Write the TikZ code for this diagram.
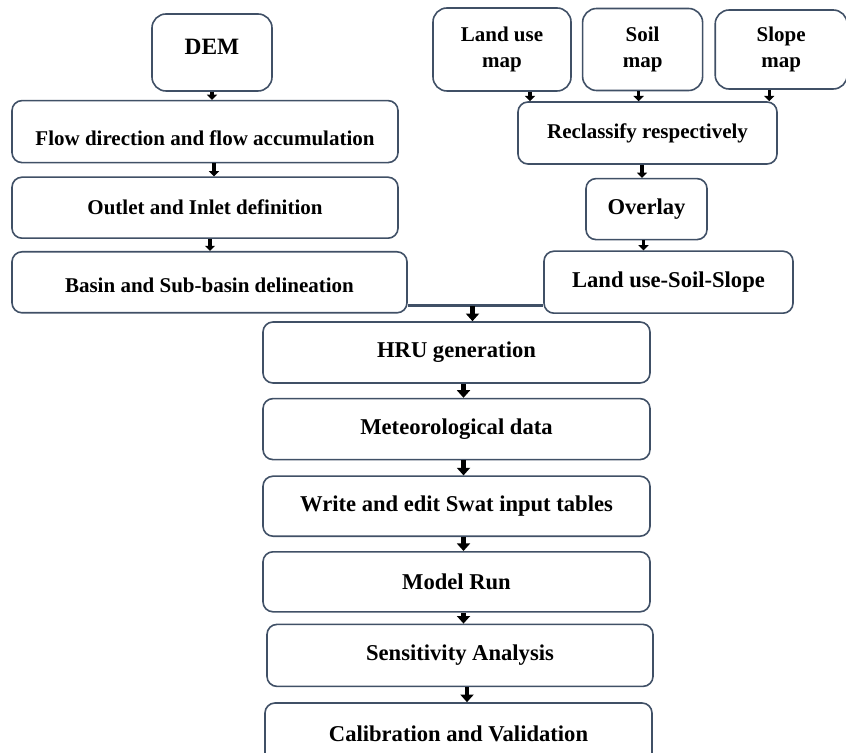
\documentclass[tikz,border=0pt]{standalone}
\usepackage{fontspec}
\setmainfont{Liberation Serif}
\usetikzlibrary{positioning,arrows.meta,calc}
\definecolor{edgeblue}{RGB}{64,80,102}

\begin{document}
\begin{tikzpicture}[
  box/.style={draw=edgeblue, line width=0.8pt, rounded corners=5pt, align=center, inner sep=0pt, font=\fontsize{10.5pt}{12.6pt}\selectfont\bfseries},
  bigbox/.style={box, font=\fontsize{11.3pt}{13.5pt}\selectfont\bfseries},
  mapbox/.style={box, rounded corners=7pt},
  arr/.style={-{Triangle[width=5pt,length=2.6pt]}, line width=1.6pt},
  bigarr/.style={-{Triangle[width=6.5pt,length=3.8pt]}, line width=2.1pt},
  joinline/.style={draw=edgeblue, line width=1.2pt}
]
\path[use as bounding box, clip] (0,0) rectangle (423pt,-376.5pt);

% DEM branch
\node[mapbox, minimum width=60pt, minimum height=38.5pt, font=\fontsize{11.7pt}{14pt}\selectfont\bfseries] (dem) at (106pt,-26.25pt) {\raisebox{2.75pt}[\height][\depth]{DEM}};
\node[box, minimum width=193pt, minimum height=31pt, below=4pt of dem, xshift=-3.5pt] (flow) {\raisebox{-3.5pt}[\height][\depth]{Flow direction and flow accumulation}};
\node[box, minimum width=193pt, minimum height=30.5pt, below=6.5pt of flow] (outlet) {Outlet and Inlet definition};
\node[box, minimum width=197.5pt, minimum height=30.5pt, below=6pt of outlet, xshift=2.25pt] (basin) {\raisebox{-1.75pt}[\height][\depth]{Basin and Sub-basin delineation}};

% map branch
\node[mapbox, minimum width=69pt, minimum height=41.5pt] (landuse) at (251pt,-24.75pt) {Land use\\map};
\node[mapbox, minimum width=60pt, minimum height=41pt, right=5pt of landuse] (soil) {Soil\\map};
\node[mapbox, minimum width=66pt, minimum height=39.5pt, right=5.5pt of soil] (slope) {Slope\\map};
\node[box, minimum width=129.5pt, minimum height=31pt] (reclass) at (323.75pt,-66.5pt) {Reclassify respectively};
\node[bigbox, minimum width=60.5pt, minimum height=30.5pt, below=6.5pt of reclass, xshift=-0.5pt] (overlay) {Overlay};
\node[bigbox, minimum width=124.5pt, minimum height=31pt, below=5pt of overlay, xshift=11pt] (lss) {Land use-Soil-Slope};

% main chain
\node[bigbox, minimum width=193.5pt, minimum height=30.5pt] (hru) at (228.25pt,-176.25pt) {HRU generation};
\node[bigbox, minimum width=193.5pt, minimum height=30.5pt, below=7pt of hru] (met) {Meteorological data};
\node[bigbox, minimum width=193.5pt, minimum height=30pt, below=7.5pt of met] (write) {Write and edit Swat input tables};
\node[bigbox, minimum width=193.5pt, minimum height=30pt, below=7pt of write] (run) {Model Run};
\node[bigbox, minimum width=193pt, minimum height=31pt, below=5.5pt of run, xshift=1.75pt] (sens) {Sensitivity Analysis};
\node[bigbox, minimum width=193.5pt, minimum height=31pt, below=7.5pt of sens, xshift=-0.75pt] (calib) {Calibration and Validation};

% arrows
\draw[arr] (dem.south) -- (dem.south |- flow.north);
\draw[arr] ([xshift=4.5pt]flow.south) -- ([xshift=4.5pt]outlet.north);
\draw[arr] ([xshift=2.5pt]outlet.south) -- ([xshift=2.5pt]outlet.south |- basin.north);
\draw[arr] ([xshift=14pt]landuse.south) -- ([xshift=14pt]landuse.south |- reclass.north);
\draw[arr] ([xshift=-2pt]soil.south) -- ([xshift=-2pt]soil.south |- reclass.north);
\draw[arr] ([xshift=-6pt]slope.south) -- ([xshift=-6pt]slope.south |- reclass.north);
\draw[arr] ([xshift=-2.75pt]reclass.south) -- ([xshift=-2.75pt]reclass.south |- overlay.north);
\draw[arr] ([xshift=-1.5pt]overlay.south) -- ([xshift=-1.5pt]overlay.south |- lss.north);

% both branches meet
\coordinate (jl) at ([yshift=4pt]basin.south east);
\coordinate (jr) at (jl -| lss.west);
\coordinate (jm) at ($(jl)!0.5!(jr)$);
\draw[joinline] (jl) -- (jr);
\draw[bigarr] ([xshift=-1.5pt]jm) -- ([xshift=-1.5pt]jm |- hru.north);

\foreach \a/\b in {hru/met, met/write, write/run, run/sens, sens/calib}
  \draw[bigarr] ([xshift=3.5pt]\a.south) -- ([xshift=3.5pt]\a.south |- \b.north);

\end{tikzpicture}
\end{document}
